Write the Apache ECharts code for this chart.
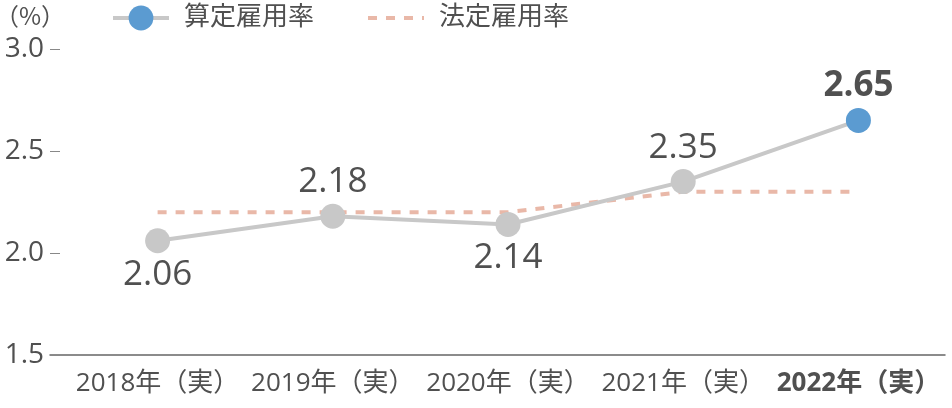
<!DOCTYPE html>
<html>
<head>
<meta charset="utf-8">
<script src="https://cdn.jsdelivr.net/npm/echarts@6/dist/echarts.min.js"></script>
<style>
  html, body { margin: 0; padding: 0; background: #fff; }
  #chart { width: 952px; height: 408px; }
</style>
</head>
<body>
<div id="chart"></div>
<script>
var years = ['2018年（実）', '2019年（実）', '2020年（実）', '2021年（実）', '2022年（実）'];
var calcRate = [2.06, 2.18, 2.14, 2.35, 2.65];
var legalRate = [2.2, 2.2, 2.2, 2.3, 2.3];
var yTicks = [1.5, 3.0, 0.5]; // min, max, interval

var FONT = '"Open Sans", "Noto Sans CJK JP", sans-serif';
var TXT = '#505050';
var labelBelow = [true, false, true, false, false];

var chart = echarts.init(document.getElementById('chart'));

var calcData = calcRate.map(function (v, i) {
  var last = i === calcRate.length - 1;
  return {
    value: v,
    itemStyle: { color: last ? '#5b9bd1' : '#c8c8c8' },
    label: {
      position: labelBelow[i] ? 'bottom' : 'top',
      distance: 4,
      fontWeight: last ? 'bold' : 'normal'
    }
  };
});

var option = {
  backgroundColor: '#ffffff',
  animation: false,
  textStyle: { fontFamily: FONT },
  title: {
    text: '（%）',
    left: -10,
    top: -1,
    textStyle: { fontSize: 24, fontWeight: 'normal', color: TXT, fontFamily: '"Noto Sans CJK JP", sans-serif' }
  },
  legend: {
    top: 0,
    left: 106,
    itemWidth: 56,
    itemHeight: 31,
    itemGap: 52,
    lineStyle: { width: 4 },
    textStyle: { fontSize: 26, color: TXT, fontFamily: FONT, padding: [0, 0, 0, 10] },
    data: [
      { name: '算定雇用率' },
      { name: '法定雇用率', itemStyle: { opacity: 0 } }
    ]
  },
  grid: [
    { left: 70, right: 6, top: 49, bottom: 53, outerBoundsMode: 'none' },
    { left: 50, right: 7, top: 49, bottom: 53, outerBoundsMode: 'none' }
  ],
  xAxis: [{
    type: 'category',
    gridIndex: 0,
    data: years,
    axisLine: { show: false },
    axisTick: { show: false },
    axisLabel: {
      interval: 0,
      margin: 16,
      fontSize: 26,
      color: TXT,
      fontFamily: FONT,
      formatter: function (v, i) {
        return i === years.length - 1 ? '{b|' + v + '}' : v;
      },
      rich: { b: { fontSize: 26, fontWeight: 'bold', color: TXT, fontFamily: FONT } }
    }
  }, {
    type: 'value',
    gridIndex: 1,
    min: 0,
    max: 1,
    axisLine: { show: true, lineStyle: { color: '#666', width: 1.5 } },
    axisTick: { show: false },
    axisLabel: { show: false },
    splitLine: { show: false }
  }],
  yAxis: [{
    type: 'value',
    gridIndex: 0,
    min: yTicks[0],
    max: yTicks[1],
    interval: yTicks[2],
    show: false
  }, {
    type: 'value',
    gridIndex: 1,
    min: yTicks[0],
    max: yTicks[1],
    interval: yTicks[2],
    axisLine: { show: false },
    axisTick: { show: true, inside: true, length: 10, lineStyle: { color: '#888' } },
    axisLabel: {
      margin: 6,
      fontSize: 28,
      color: TXT,
      fontFamily: FONT,
      formatter: function (v) { return v.toFixed(1); }
    },
    splitLine: { show: false }
  }],
  series: [{
    name: '法定雇用率',
    type: 'line',
    xAxisIndex: 0,
    yAxisIndex: 0,
    data: legalRate,
    symbol: 'none',
    z: 1,
    lineStyle: { color: '#e9b8a8', width: 4, type: [9, 9] },
    itemStyle: { color: '#e9b8a8' }
  }, {
    name: '算定雇用率',
    type: 'line',
    xAxisIndex: 0,
    yAxisIndex: 0,
    data: calcData,
    symbol: 'circle',
    symbolSize: 25,
    z: 3,
    lineStyle: { color: '#c8c8c8', width: 4 },
    itemStyle: { color: '#5b9bd1' },
    label: {
      show: true,
      fontSize: 35,
      color: TXT,
      fontFamily: FONT,
      formatter: function (p) { return p.value.toFixed(2); }
    }
  }]
};

chart.setOption(option);
</script>
</body>
</html>
